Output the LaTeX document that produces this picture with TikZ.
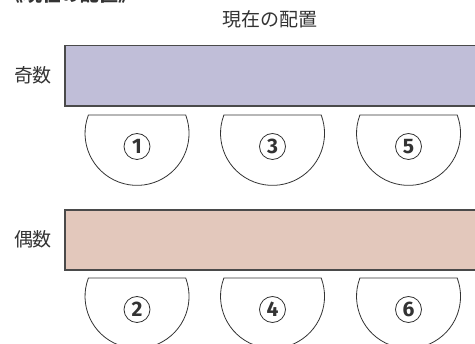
\documentclass[tikz,border=0pt]{standalone}
\usepackage{fontspec}
\newfontfamily\cjk{Noto Sans CJK JP}
\newfontfamily\numfont{Fira Sans}
\definecolor{txt}{HTML}{333333}
\definecolor{oddfill}{HTML}{C0BED8}
\definecolor{evenfill}{HTML}{E3C8BC}
\definecolor{edge}{HTML}{4A4A4A}
\begin{document}
\begin{tikzpicture}[x=1pt,y=-1pt,
  lbl/.style={font=\cjk\fontsize{19}{19}\selectfont, text=txt, inner sep=0pt},
  bar/.style={draw=edge, line width=1.1pt},
  tbl/.style={draw=txt, line width=0.8pt, fill=white},
  num/.style={circle, draw=txt, line width=0.8pt, minimum size=26pt, inner sep=0pt,
    font=\numfont\bfseries\fontsize{21}{21}\selectfont, text=txt}]
\useasboundingbox (0,0) rectangle (475,344);
\begin{scope}
\clip (0,0) rectangle (475,344);
\node[lbl, font=\cjk\bfseries\fontsize{19}{19}\selectfont, anchor=west] (head) at (4,-6) {《現在の配置》};
\node[lbl] (title) at (270,19) {現在の配置};
\node[lbl] (oddlbl) at (33,75) {奇数};
\node[lbl] (evenlbl) at (33,239) {偶数};
\draw[bar, fill=oddfill] (65,45.5) rectangle (480,106);
\draw[bar, fill=evenfill] (65,210) rectangle (480,270);
\foreach \cx/\n in {137/1,272.5/3,408.5/5} {
  \draw[tbl] ({\cx-48.6},115) arc[start angle=200.7, end angle=-20.7, radius=52] -- cycle;
  \node[num] (t\n) at (\cx,146.5) {\n};
}
\foreach \cx/\n in {137/2,272.5/4,408.5/6} {
  \draw[tbl] ({\cx-48.6},278) arc[start angle=200.7, end angle=-20.7, radius=52] -- cycle;
  \node[num] (t\n) at (\cx,309.5) {\n};
}
\end{scope}
\end{tikzpicture}
\end{document}
